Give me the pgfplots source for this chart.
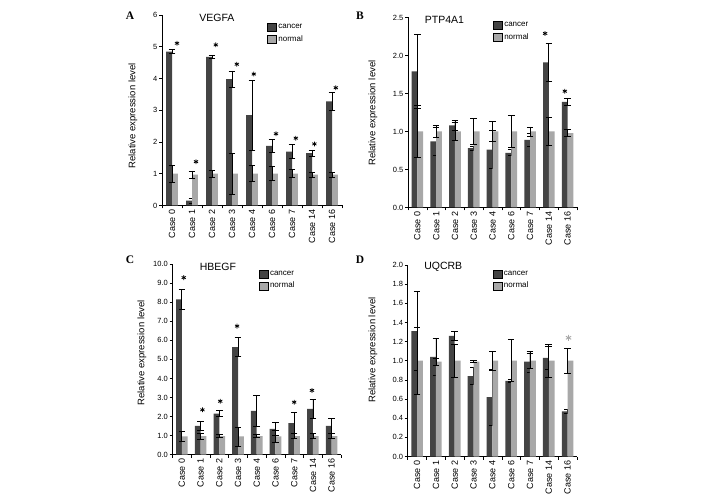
\documentclass[border=0pt]{standalone}
\usepackage{pgfplots}
\pgfplotsset{compat=1.18}
\usepackage{fontspec}
\setmainfont{Liberation Sans}
\newfontfamily\letterfont{Liberation Serif}
\definecolor{dk}{RGB}{68,68,68}
\definecolor{lt}{RGB}{168,168,168}

\pgfplotsset{
  panel/.style={
    scale only axis,
    anchor=south west,
    axis x line*=bottom, axis y line*=left,
    xmin=-0.5, xmax=8.5, ymin=0,
    xtick={0,...,8},
    xticklabels={Case 0,Case 1,Case 2,Case 3,Case 4,Case 6,Case 7,Case 14,Case 16},
    xticklabel style={rotate=90, anchor=east, inner sep=1pt, font=\fontsize{9}{10}\selectfont},
    minor xtick={-0.5,0.5,...,8.5},
    major x tick style={draw=none},
    tick align=outside,
    major tick length=3pt, minor tick length=3pt,
    tick style={black, line width=0.5pt},
    yticklabel style={font=\fontsize{7.5}{8}\selectfont, inner sep=1.5pt},
    /pgf/number format/assume math mode=true,
    axis line style={black, line width=0.6pt},
    clip=false,
    ylabel={Relative expression level},
    legend style={draw=none, fill=none, font=\fontsize{8}{9}\selectfont,
      inner sep=0pt, row sep=1.5pt, cells={anchor=west}, anchor=north west},
    legend image code/.code={\fill[##1] (0pt,-4pt) rectangle (9pt,4pt);},
  },
  cbar/.style={ybar, bar width=5.8pt, bar shift=-2.9pt, fill=dk, draw=none, forget plot,
    error bars/.cd, y dir=both, y explicit,
    error bar style={black, line width=0.75pt},
    error mark options={rotate=90, mark size=3.3pt, line width=0.75pt, black}},
  nbar/.style={ybar, bar width=5.8pt, bar shift=2.9pt, fill=lt, draw=none, forget plot,
    error bars/.cd, y dir=both, y explicit,
    error bar style={black, line width=0.75pt},
    error mark options={rotate=90, mark size=3.3pt, line width=0.75pt, black}},
  stars/.style={only marks, mark=asterisk, mark size=2.4pt, black, line width=0.8pt, forget plot},
  onedec/.style={yticklabel style={/pgf/number format/.cd, fixed, fixed zerofill, precision=1}},
}

\begin{document}
\begin{tikzpicture}
\useasboundingbox (0,0) rectangle (708pt,500pt);

% ---------------- A: VEGFA ----------------
\begin{axis}[panel, at={(162pt,294.5pt)}, width=180pt, height=190.5pt,
  ymax=6, ytick={0,1,2,3,4,5,6},
  every axis y label/.style={at={(axis description cs:-0.161,0.47)}, rotate=90, anchor=center, font=\fontsize{9.5}{10}\selectfont},
  legend style={at={(0.582,0.963)}}]
\addplot[cbar] coordinates {
(0,4.85) +- (0,0.06)
(1,0.15) +- (0,0.07)
(2,4.68) +- (0,0.05)
(3,3.98) +- (0,0.26)
(4,2.85) +- (0,1.10)
(5,1.88) +- (0,0.20)
(6,1.70) +- (0,0.23)
(7,1.65) +- (0,0.10)
(8,3.28) +- (0,0.27)
};
\addplot[nbar] coordinates {
(0,1.00) +- (0,0.27)
(1,0.97) +- (0,0.12)
(2,1.00) +- (0,0.12)
(3,1.00) +- (0,0.65)
(4,1.00) +- (0,0.25)
(5,1.00) +- (0,0.22)
(6,1.00) +- (0,0.13)
(7,0.97) +- (0,0.08)
(8,0.97) +- (0,0.08)
};
\addplot[stars] coordinates {(0.25,5.11) (1.2,1.38) (2.19,5.06) (3.24,4.45) (4.09,4.14) (5.2,2.26) (6.19,2.12) (7.12,1.94) (8.19,3.71)};
\addlegendimage{fill=dk}\addlegendentry{cancer}
\addlegendimage{fill=lt}\addlegendentry{normal}
\node[font=\fontsize{10.5}{11}\selectfont] at (rel axis cs:0.305,0.985) {VEGFA};
\end{axis}

% ---------------- B: PTP4A1 ----------------
\begin{axis}[panel, onedec, at={(408pt,292.5pt)}, width=169pt, height=190pt,
  ymax=2.5, ytick={0,0.5,1.0,1.5,2.0,2.5},
  every axis y label/.style={at={(axis description cs:-0.207,0.497)}, rotate=90, anchor=center, font=\fontsize{9.5}{10}\selectfont},
  legend style={at={(0.501,0.987)}}]
\addplot[cbar] coordinates {
(0,1.79) +- (0,0.49)
(1,0.87) +- (0,0.18)
(2,1.08) +- (0,0.07)
(3,0.78) +- (0,0.03)
(4,0.76) +- (0,0.25)
(5,0.72) +- (0,0.04)
(6,0.89) +- (0,0.08)
(7,1.91) +- (0,0.25)
(8,1.39) +- (0,0.05)
};
\addplot[nbar] coordinates {
(0,1.00) +- (0,0.34)
(1,1.00) +- (0,0.08)
(2,1.00) +- (0,0.12)
(3,1.00) +- (0,0.17)
(4,1.00) +- (0,0.13)
(5,1.00) +- (0,0.21)
(6,1.00) +- (0,0.06)
(7,1.00) +- (0,0.18)
(8,0.98) +- (0,0.05)
};
\addplot[stars] coordinates {(6.8,2.29) (7.85,1.53)};
\addlegendimage{fill=dk}\addlegendentry{cancer}
\addlegendimage{fill=lt}\addlegendentry{normal}
\node[font=\fontsize{10.5}{11}\selectfont] at (rel axis cs:0.216,0.99) {PTP4A1};
\end{axis}

% ---------------- C: HBEGF ----------------
\begin{axis}[panel, onedec, at={(172.5pt,45.5pt)}, width=168.5pt, height=190.2pt,
  ymax=10, ytick={0,1,2,3,4,5,6,7,8,9,10},
  every axis y label/.style={at={(axis description cs:-0.181,0.534)}, rotate=90, anchor=center, font=\fontsize{9.5}{10}\selectfont},
  legend style={at={(0.51,0.977)}}]
\addplot[cbar] coordinates {
(0,8.15) +- (0,0.53)
(1,1.50) +- (0,0.25)
(2,2.15) +- (0,0.15)
(3,5.65) +- (0,0.50)
(4,2.30) +- (0,0.80)
(5,1.35) +- (0,0.35)
(6,1.65) +- (0,0.55)
(7,2.40) +- (0,0.50)
(8,1.50) +- (0,0.40)
};
\addplot[nbar] coordinates {
(0,0.95) +- (0,0.28)
(1,0.97) +- (0,0.15)
(2,0.97) +- (0,0.08)
(3,0.95) +- (0,0.50)
(4,0.97) +- (0,0.07)
(5,0.95) +- (0,0.33)
(6,0.97) +- (0,0.12)
(7,0.97) +- (0,0.12)
(8,0.97) +- (0,0.12)
};
\addplot[stars] coordinates {(0.1,9.3) (1.1,2.35) (2.05,2.8) (2.95,6.75) (6.0,2.75) (6.95,3.37)};
\addlegendimage{fill=dk}\addlegendentry{cancer}
\addlegendimage{fill=lt}\addlegendentry{normal}
\node[font=\fontsize{10.5}{11}\selectfont] at (rel axis cs:0.27,0.987) {HBEGF};
\end{axis}

% ---------------- D: UQCRB ----------------
\begin{axis}[panel, onedec, at={(407.7pt,43.5pt)}, width=169.3pt, height=191.5pt,
  ymax=2.0, ytick={0,0.2,0.4,0.6,0.8,1.0,1.2,1.4,1.6,1.8,2.0},
  every axis y label/.style={at={(axis description cs:-0.205,0.556)}, rotate=90, anchor=center, font=\fontsize{9.5}{10}\selectfont},
  legend style={at={(0.50,0.981)}}]
\addplot[cbar] coordinates {
(0,1.31) +- (0,0.41)
(1,1.04) +- (0,0.19)
(2,1.26) +- (0,0.05)
(3,0.84) +- (0,0.09)
(4,0.62) +- (0,0.29)
(5,0.79) +- (0,0.02)
(6,0.99) +- (0,0.11)
(7,1.03) +- (0,0.12)
(8,0.47) +- (0,0.02)
};
\addplot[nbar] coordinates {
(0,1.00) +- (0,0.35)
(1,0.99) +- (0,0.04)
(2,1.00) +- (0,0.17)
(3,0.99) +- (0,0.01)
(4,1.00) +- (0,0.10)
(5,1.00) +- (0,0.22)
(6,1.00) +- (0,0.08)
(7,1.00) +- (0,0.17)
(8,1.00) +- (0,0.13)
};
\addplot[stars, lt, mark size=3pt, line width=0.9pt] coordinates {(8.05,1.24)};
\addlegendimage{fill=dk}\addlegendentry{cancer}
\addlegendimage{fill=lt}\addlegendentry{normal}
\node[font=\fontsize{10.5}{11}\selectfont] at (rel axis cs:0.21,0.991) {UQCRB};
\end{axis}

% panel letters
\node[font=\letterfont\bfseries\fontsize{11.5}{12}\selectfont] at (130pt,484pt) {A};
\node[font=\letterfont\bfseries\fontsize{11.5}{12}\selectfont] at (360pt,484pt) {B};
\node[font=\letterfont\bfseries\fontsize{11.5}{12}\selectfont] at (130pt,240pt) {C};
\node[font=\letterfont\bfseries\fontsize{11.5}{12}\selectfont] at (360pt,240pt) {D};
\end{tikzpicture}
\end{document}
